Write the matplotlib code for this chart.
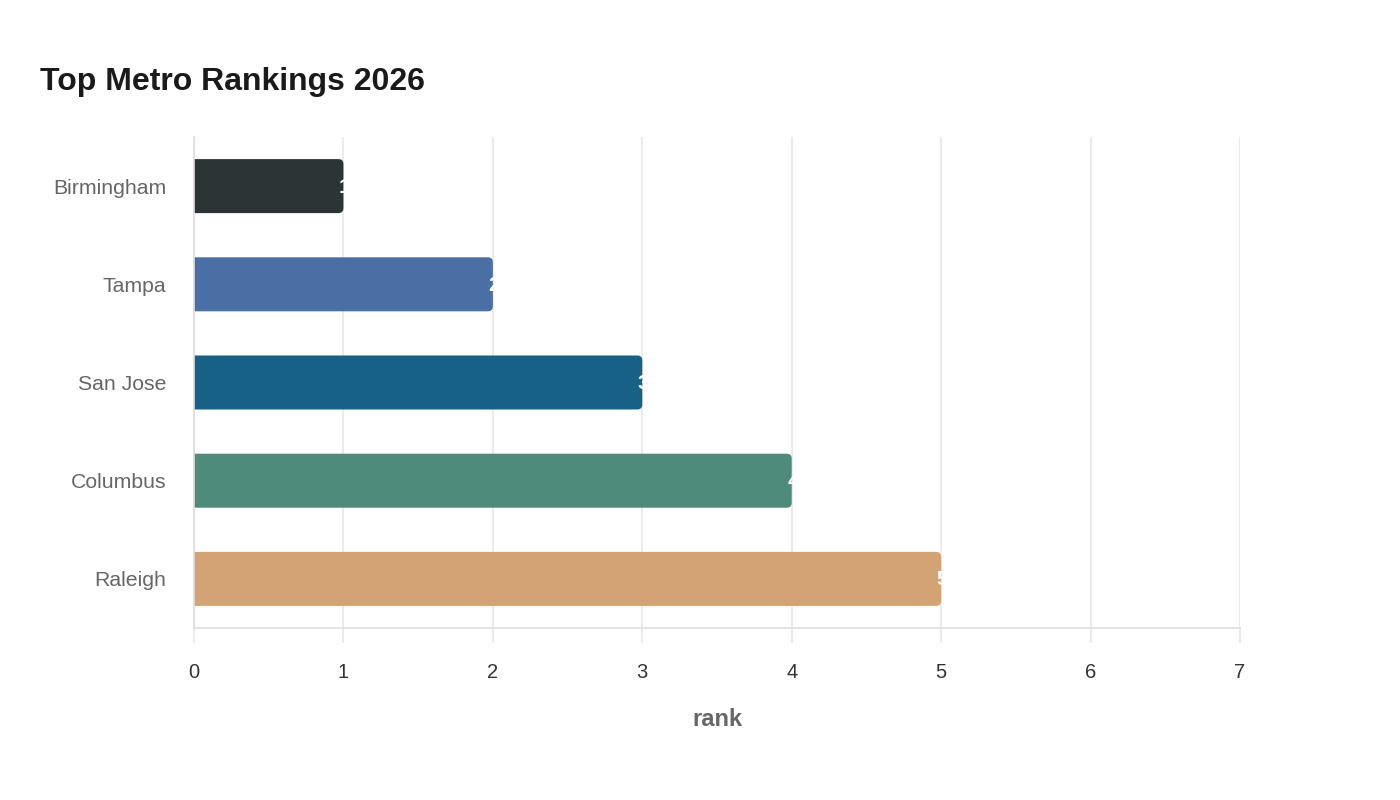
import matplotlib
matplotlib.use("Agg")
import matplotlib.pyplot as plt
from matplotlib.patches import FancyBboxPatch
from matplotlib.transforms import offset_copy

plt.rcParams['font.family'] = ['Liberation Sans', 'DejaVu Sans']

metros = ["Birmingham", "Tampa", "San Jose", "Columbus", "Raleigh"]
ranks = [1, 2, 3, 4, 5]
colors = ["#2d3436", "#4a6fa5", "#186186", "#4e8b7a", "#d4a373"]
xticks = [0, 1, 2, 3, 4, 5, 6, 7]

fig = plt.figure(figsize=(14, 8), dpi=100)
ax = fig.add_axes([194/1400, 1 - 628/800, (1240-194)/1400, (628-137)/800])

xmin, xmax = 0, 7
ax.set_xlim(xmin, xmax)
ax.set_ylim(len(metros) - 0.5, -0.5)

px_x = (xmax - xmin) / (1240 - 194)
px_y = len(metros) / (628 - 137)
r = 5 * px_x
aspect = px_y / px_x
h = 0.55

for i, (m, v, c) in enumerate(zip(metros, ranks, colors)):
    # start the rounded box left of the axis so its left corners are clipped away
    box = FancyBboxPatch((-3 * r, i - h/2), v + 3 * r, h,
                         boxstyle=f"round,pad=0,rounding_size={r}",
                         mutation_aspect=aspect, facecolor=c, edgecolor='none', zorder=2)
    ax.add_patch(box)
    tr = offset_copy(ax.transData, fig=fig, x=-4.5, y=-1, units='dots')
    ax.text(v, i, str(v), transform=tr, ha='left', va='center', color='white',
            fontsize=15, fontweight='bold', zorder=3)

ax.set_yticks(range(len(metros)))
ax.set_yticklabels(metros)
ax.set_xticks(xticks)
ax.set_xticklabels([str(t) for t in xticks])

ax.grid(axis='x', color='#ebebeb', linewidth=1.5, zorder=0)
ax.set_axisbelow(True)
for s in ['top', 'right']:
    ax.spines[s].set_visible(False)
ax.spines['left'].set_color('#dddddd')
ax.spines['bottom'].set_color('#dddddd')
ax.spines['left'].set_linewidth(1.2)
ax.spines['bottom'].set_linewidth(1.2)
ax.spines['left'].set_zorder(4)

ax.tick_params(axis='y', length=0, pad=20, labelsize=15.3, labelcolor='#666666')
ax.tick_params(axis='x', length=11, width=1.5, color='#ebebeb', pad=14, labelsize=14.5, labelcolor='#333333')

ax.set_xlabel("rank", fontsize=17, fontweight='bold', color='#666666', labelpad=19)

fig.text(40/1400, 1 - 82/800, "Top Metro Rankings 2026", fontsize=23, fontweight='bold',
         color='#1a1a1a', ha='left', va='center')

fig.savefig("out.png", dpi=100, facecolor='white')
